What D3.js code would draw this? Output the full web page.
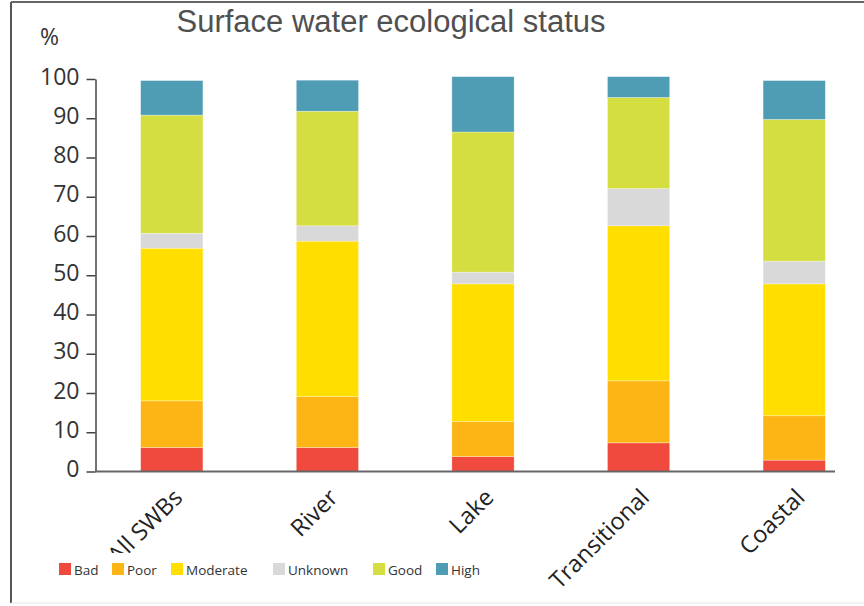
<!DOCTYPE html>
<html>
<head>
<meta charset="utf-8">
<script src="https://cdn.jsdelivr.net/npm/d3@7"></script>
<style>
    body { margin: 0; background: #fff; }
    .chart_chart { width: 864px; height: 606px; }
</style>
</head>
<body>
<div class="chart_chart"></div>
<script>
(function () {
    // values (%)
    const categories = ['All SWBs', 'River', 'Lake', 'Transitional', 'Coastal'];
    const bad = [6.1, 6.1, 3.8, 7.3, 2.9];
    const poor = [11.9, 13.0, 8.9, 15.8, 11.3];
    const moderate = [38.9, 39.6, 35.1, 39.5, 33.6];
    const unknown = [3.8, 3.9, 3.0, 9.5, 5.8];
    const good = [30.1, 29.2, 35.7, 23.2, 36.1];
    const high = [8.8, 7.9, 14.1, 5.3, 9.9];
    const yTicks = [0, 10, 20, 30, 40, 50, 60, 70, 80, 90, 100];
    const classes = ['Bad', 'Poor', 'Moderate', 'Unknown', 'Good', 'High'];

    const colors = ['#f04a3e', '#fdb515', '#ffde00', '#d8d9d8', '#d4de41', '#4f9db5'];
    const series = [bad, poor, moderate, unknown, good, high];

    const width = 864;
    const height = 606;

    const svg = d3.select(".chart_chart").append("svg").attr("width", width).attr("height", height);

    // frame
    svg.append("line").attr("x1", 11).attr("x2", 11).attr("y1", 2).attr("y2", 603)
        .attr("stroke", "#555").attr("stroke-width", 2);
    svg.append("line").attr("x1", 11).attr("x2", width).attr("y1", 2).attr("y2", 2)
        .attr("stroke", "#666").attr("stroke-width", 2);
    svg.append("line").attr("x1", 11).attr("x2", width).attr("y1", 603).attr("y2", 603)
        .attr("stroke", "#e4e4e4").attr("stroke-width", 1);

    svg.append("text").attr("x", 391).attr("y", 32).attr("text-anchor", "middle")
        .attr("font-family", "Liberation Sans, Arial, sans-serif").attr("font-size", 31)
        .attr("fill", "#505050").text("Surface water ecological status");

    svg.append("text").attr("x", 40).attr("y", 45)
        .attr("font-family", "Open Sans, sans-serif").attr("font-size", 23)
        .attr("fill", "#333").text("%");

    const xScale = d3.scaleBand().domain(categories).range([94, 872]).paddingInner(0.6).paddingOuter(0.3);
    const yScale = d3.scaleLinear().domain([0, 100]).range([471.5, 79]);

    // stacked data
    let rows = [];
    for (let i = 0; i < categories.length; i++) {
        let r = { cat: categories[i] };
        for (let k = 0; k < classes.length; k++) {
            r[classes[k]] = series[k][i];
        }
        rows.push(r);
    }
    const stacked = d3.stack().keys(classes)(rows);

    const g = svg.append("g");
    stacked.forEach(function (layer, j) {
        g.selectAll(".seg" + j).data(layer).enter().append("rect")
            .attr("x", d => xScale(d.data.cat))
            .attr("y", d => yScale(d[1]))
            .attr("width", xScale.bandwidth())
            .attr("height", d => yScale(d[0]) - yScale(d[1]))
            .attr("fill", colors[j])
            .attr("stroke", "#fff").attr("stroke-opacity", 0.5).attr("stroke-width", 0.6);
    });

    // y axis
    const yAxis = svg.append("g").attr("transform", "translate(95.5,0)")
        .call(d3.axisLeft(yScale).tickValues(yTicks).tickSize(9).tickSizeOuter(0).tickPadding(7));
    yAxis.selectAll("path, line").attr("stroke", "#444").attr("stroke-width", 1.5);
    yAxis.selectAll("text").attr("font-family", "Open Sans, sans-serif").attr("font-size", 23)
        .attr("fill", "#333").attr("dy", "0.22em");

    // x axis line
    svg.append("line").attr("x1", 95).attr("x2", 835).attr("y1", 471.5).attr("y2", 471.5)
        .attr("stroke", "#666").attr("stroke-width", 2);

    // category labels
    svg.selectAll(".xlab").data(categories).enter().append("text")
        .attr("transform", d => `translate(${xScale(d) + xScale.bandwidth() / 2 + 12},499) rotate(-45)`)
        .attr("text-anchor", "end")
        .attr("font-family", "Open Sans, sans-serif").attr("font-size", 23.5)
        .attr("fill", "#222").text(d => d);

    // legend
    const legendX = [59, 112, 171, 273, 373, 436];
    const legend = svg.append("g");
    legend.append("rect").attr("x", 40).attr("y", 553).attr("width", 490).attr("height", 46).attr("fill", "#fff");
    classes.forEach(function (c, k) {
        legend.append("rect").attr("x", legendX[k]).attr("y", 563).attr("width", 12).attr("height", 12)
            .attr("fill", colors[k]);
        legend.append("text").attr("x", legendX[k] + 15).attr("y", 575)
            .attr("font-family", "Open Sans, sans-serif").attr("font-size", 13.5)
            .attr("fill", "#333").text(c);
    });
})();
</script>
</body>
</html>
